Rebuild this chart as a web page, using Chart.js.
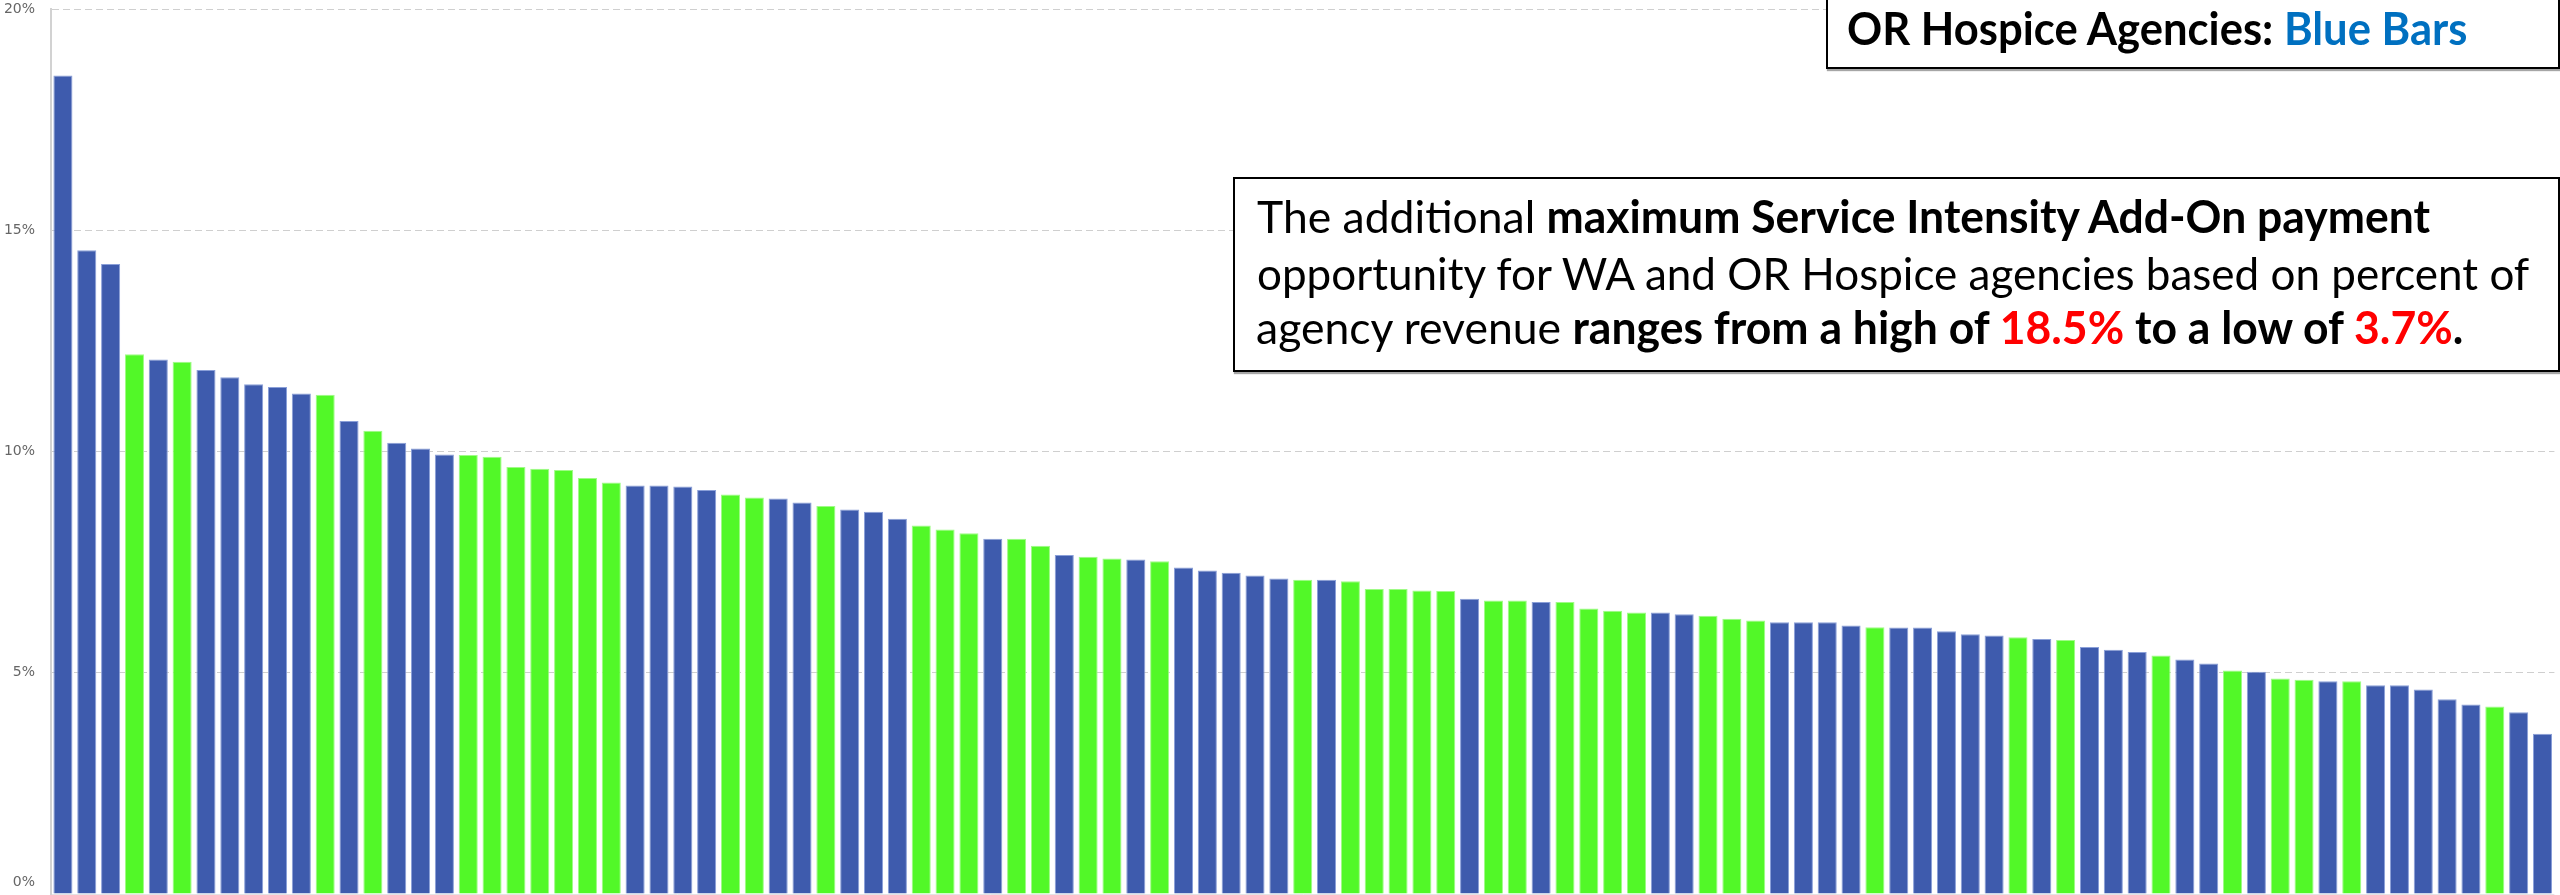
<!DOCTYPE html>
<html>
<head>
<meta charset="utf-8">
<script src="https://cdn.jsdelivr.net/npm/chart.js@4.4.1/dist/chart.umd.min.js"></script>
<style>
  html, body { margin: 0; padding: 0; background: #fff; overflow: hidden; }
  #wrap { position: relative; width: 2560px; height: 895px; }
  #chart { position: absolute; left: 0; top: 0; }
  .box { position: absolute; box-sizing: border-box; border: 2px solid #000; background: #fff; box-shadow: 1px 2px 1px rgba(0,0,0,0.35); }
  .line { position: absolute; white-space: nowrap; font-family: Lato, "Open Sans", sans-serif; color: #000; line-height: 1.2; transform-origin: 0 0; }
  .b { font-weight: 700; }
  .red { color: #ff0000; font-weight: 700; }
  .blue { color: #0070c0; }
  .bl { display: inline-block; width: 0; height: 0; vertical-align: baseline; }
</style>
</head>
<body>
<div id="wrap">
  <canvas id="chart" width="2560" height="895"></canvas>
  <div class="box" style="left:1826px; top:-6px; width:734px; height:75px;"></div>
  <div class="box" style="left:1233px; top:177px; width:1327px; height:195px;"></div>
  <div class="line b" id="legendLine" style="font-size:45px;"><span class="bl"></span>OR Hospice Agencies: <span class="blue">Blue Bars</span></div>
  <div class="line" id="note1" style="font-size:45px;"><span class="bl"></span>The additional <span class="b">maximum Service Intensity Add-On payment</span></div>
  <div class="line" id="note2" style="font-size:45px;"><span class="bl"></span>opportunity for WA and OR Hospice agencies based on percent of</div>
  <div class="line" id="note3" style="font-size:45px;"><span class="bl"></span>agency revenue <span class="b">ranges from a high of </span><span class="red">18.5%</span><span class="b"> to a low of </span><span class="red">3.7%</span><span class="b">.</span></div>
</div>
<script>
// Add-on payment as % of agency revenue, sorted high to low
const addOnPct = [
  18.5, 14.55, 14.24, 12.2, 12.08, 12.03, 11.84, 11.68, 11.52, 11.46,
  11.31, 11.28, 10.69, 10.47, 10.2, 10.07, 9.93, 9.92, 9.88, 9.65,
  9.61, 9.58, 9.40, 9.30, 9.23, 9.23, 9.21, 9.13, 9.03, 8.96,
  8.94, 8.85, 8.77, 8.69, 8.64, 8.48, 8.33, 8.24, 8.15, 8.03,
  8.03, 7.87, 7.66, 7.62, 7.58, 7.56, 7.52, 7.38, 7.31, 7.26,
  7.20, 7.13, 7.10, 7.10, 7.07, 6.89, 6.89, 6.86, 6.85, 6.67,
  6.63, 6.63, 6.60, 6.60, 6.45, 6.40, 6.36, 6.36, 6.32, 6.29,
  6.22, 6.18, 6.14, 6.14, 6.14, 6.07, 6.03, 6.02, 6.02, 5.94,
  5.87, 5.84, 5.80, 5.76, 5.74, 5.58, 5.52, 5.47, 5.39, 5.30,
  5.21, 5.05, 5.02, 4.87, 4.84, 4.81, 4.81, 4.72, 4.72, 4.62,
  4.40, 4.28, 4.24, 4.11, 3.62
];

// State of each agency (OR = blue, WA = green)
const agencyState = [
  'OR','OR','OR','WA','OR','WA','OR','OR','OR','OR',
  'OR','WA','OR','WA','OR','OR','OR','WA','WA','WA',
  'WA','WA','WA','WA','OR','OR','OR','OR','WA','WA',
  'OR','OR','WA','OR','OR','OR','WA','WA','WA','OR',
  'WA','WA','OR','WA','WA','OR','WA','OR','OR','OR',
  'OR','OR','WA','OR','WA','WA','WA','WA','WA','OR',
  'WA','WA','OR','WA','WA','WA','WA','OR','OR','WA',
  'WA','WA','OR','OR','OR','OR','WA','OR','OR','OR',
  'OR','OR','WA','OR','WA','OR','OR','OR','WA','OR',
  'OR','WA','OR','WA','WA','OR','WA','OR','OR','OR',
  'OR','OR','WA','OR','OR'
];

const agencyLabels = addOnPct.map((_, i) => 'Agency ' + (i + 1));
const yTicks = [0, 5, 10, 15, 20];

const colors = {
  OR: '#3e5bad',
  WA: '#52f828',
  ORedge: '#8a9fd8',
  WAedge: '#9ffb86',
  grid: '#cfcfcf',
  tick: '#666666'
};

// 0% label sits a bit above the baseline in the original
const zeroLabel = {
  id: 'zeroLabel',
  afterDraw(chart) {
    const { ctx, chartArea } = chart;
    ctx.save();
    ctx.font = '14px "DejaVu Sans"';
    ctx.fillStyle = colors.tick;
    ctx.textAlign = 'right';
    ctx.textBaseline = 'middle';
    ctx.fillText(yTicks[0] + '%', chartArea.left - 16, chartArea.bottom - 12);
    ctx.restore();
  }
};

new Chart(document.getElementById('chart'), {
  type: 'bar',
  data: {
    labels: agencyLabels,
    datasets: [{
      data: addOnPct,
      backgroundColor: agencyState.map(s => colors[s]),
      borderColor: agencyState.map(s => colors[s + 'edge']),
      borderWidth: 1,
      barPercentage: 0.8,
      categoryPercentage: 1.0
    }]
  },
  options: {
    responsive: false,
    animation: false,
    layout: { padding: { top: 9, bottom: 1, left: 0, right: 5.6 } },
    plugins: {
      legend: { display: false },
      tooltip: { enabled: false }
    },
    scales: {
      x: { display: false },
      y: {
        min: yTicks[0],
        max: yTicks[yTicks.length - 1],
        afterBuildTicks: scale => { scale.ticks = yTicks.map(v => ({ value: v })); },
        afterFit: scale => {
          scale.width = 51;
          scale.paddingTop = 0;
          scale.paddingBottom = 0;
        },
        ticks: {
          padding: 16,
          color: colors.tick,
          font: { family: 'DejaVu Sans', size: 14 },
          callback: v => v === 0 ? '' : v + '%'
        },
        grid: {
          drawTicks: false,
          lineWidth: 1,
          color: ctx => ctx.tick && ctx.tick.value === 0 ? '#e4e4e4' : colors.grid
        },
        border: {
          display: true,
          color: '#d2d2d2',
          width: 2,
          dash: ctx => ctx.tick && ctx.tick.value === 0 ? [] : [7, 4]
        }
      }
    }
  },
  plugins: [zeroLabel]
});

// annotation text: left edge, baseline and width in the original
const textLayout = [
  { id: 'legendLine', left: 1847, baseline: 45, width: 620 },
  { id: 'note1', left: 1257, baseline: 233, width: 1173 },
  { id: 'note2', left: 1257, baseline: 290, width: 1272 },
  { id: 'note3', left: 1256, baseline: 344, width: 1207 }
];

function placeText() {
  textLayout.forEach(t => {
    const el = document.getElementById(t.id);
    el.style.left = t.left + 'px';
    el.style.top = '0px';
    const base = el.querySelector('.bl').offsetTop;
    el.style.top = (t.baseline - base) + 'px';
    el.style.transform = 'scaleX(' + (t.width / el.offsetWidth) + ')';
  });
}
placeText();
if (document.fonts && document.fonts.ready) document.fonts.ready.then(placeText);
</script>
</body>
</html>
